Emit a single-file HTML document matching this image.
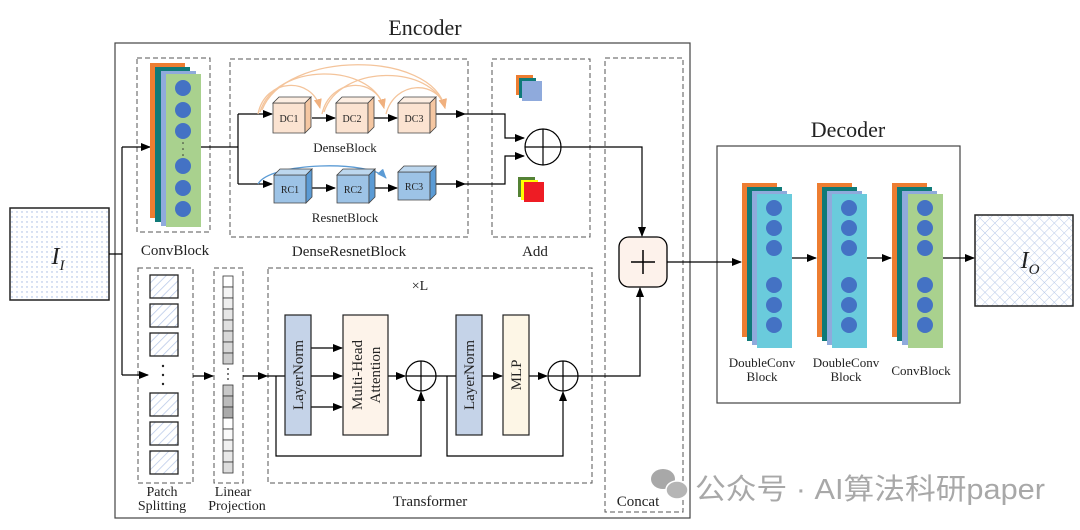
<!DOCTYPE html>
<html><head><meta charset="utf-8"><style>
html,body{margin:0;padding:0;background:#fff;width:1080px;height:530px;overflow:hidden}
svg text{font-family:"Liberation Serif",serif;fill:#222}
</style></head><body>
<svg width="1080" height="530" viewBox="0 0 1080 530" xmlns="http://www.w3.org/2000/svg">
<defs>
<marker id="a" markerWidth="10" markerHeight="8" refX="9" refY="4" orient="auto" markerUnits="userSpaceOnUse"><path d="M0,0 L10,4 L0,8 z" fill="#000"/></marker>
<marker id="ao" markerWidth="10" markerHeight="8" refX="9" refY="4" orient="auto" markerUnits="userSpaceOnUse"><path d="M0,0 L10,4 L0,8 z" fill="#f0b07e"/></marker>
<marker id="ab" markerWidth="10" markerHeight="8" refX="9" refY="4" orient="auto" markerUnits="userSpaceOnUse"><path d="M0,0 L10,4 L0,8 z" fill="#5b9bd5"/></marker>
<pattern id="dots" width="5" height="5" patternUnits="userSpaceOnUse"><circle cx="2" cy="2" r="0.7" fill="#9db4e0"/></pattern>
<pattern id="hatch" width="6" height="6" patternUnits="userSpaceOnUse" patternTransform="rotate(45)"><line x1="0" y1="0" x2="0" y2="6" stroke="#b7c8e8" stroke-width="1.5"/></pattern>
<pattern id="cross" width="7" height="7" patternUnits="userSpaceOnUse" patternTransform="rotate(45)"><path d="M0,0 H7 M0,0 V7" stroke="#b7c8e8" stroke-width="1"/></pattern>
</defs>
<g fill="none" stroke="#000" stroke-width="1.2">
<rect x="115" y="43" width="575" height="475" stroke="#444"/>
<rect x="717" y="146" width="243" height="257" stroke="#444"/>
</g>
<text x="425" y="35" font-size="22" text-anchor="middle">Encoder</text>
<text x="848" y="137" font-size="22" text-anchor="middle">Decoder</text>
<g fill="none" stroke="#555" stroke-dasharray="5,3" stroke-width="1">
<rect x="137" y="58" width="73" height="174"/>
<rect x="230" y="59" width="238" height="178"/>
<rect x="492" y="59" width="98" height="178"/>
<rect x="605" y="58" width="78" height="454"/>
<rect x="138" y="268" width="55" height="215"/>
<rect x="214" y="268" width="29" height="215"/>
<rect x="268" y="268" width="324" height="215"/>
</g>
<rect x="10" y="208" width="99" height="92" fill="url(#dots)" stroke="#222" stroke-width="1.5"/>
<text x="58" y="264" font-size="24" font-style="italic" text-anchor="middle">I<tspan font-size="15" dy="6">I</tspan></text>
<rect x="975" y="215" width="98" height="91" fill="url(#cross)" stroke="#222" stroke-width="1.5"/>
<text x="1030" y="268" font-size="24" font-style="italic" text-anchor="middle">I<tspan font-size="15" dy="6">O</tspan></text>
<g fill="none" stroke="#000" stroke-width="1.2">
<path d="M109,254 H122 M122,147 V375"/>
<path d="M122,147 H150" marker-end="url(#a)"/>
<path d="M122,375 H148" marker-end="url(#a)"/>
</g>
<rect x="150" y="63" width="35" height="155" fill="#ed7d31"/>
<rect x="155" y="67" width="35" height="155" fill="#0f7a78"/>
<rect x="161" y="71" width="35" height="155" fill="#8faadc"/>
<rect x="166" y="74" width="35" height="153" fill="#a9d18e"/>
<g fill="#4472c4">
<circle cx="183" cy="88" r="8"/><circle cx="183" cy="110" r="8"/><circle cx="183" cy="131" r="8"/>
<circle cx="183" cy="166" r="8"/><circle cx="183" cy="188" r="8"/><circle cx="183" cy="209" r="8"/>
<circle cx="183" cy="143" r="0.8" fill="#333"/><circle cx="183" cy="149" r="0.8" fill="#333"/><circle cx="183" cy="155" r="0.8" fill="#333"/>
</g>
<text x="175" y="255" font-size="15" text-anchor="middle">ConvBlock</text>
<text x="349" y="256" font-size="15" text-anchor="middle">DenseResnetBlock</text>
<text x="535" y="256" font-size="15" text-anchor="middle">Add</text>
<g fill="none" stroke="#000" stroke-width="1.2">
<path d="M201,147 H238 M238,114 V184"/>
<path d="M238,114 H272" marker-end="url(#a)"/>
<path d="M238,184 H272" marker-end="url(#a)"/>
<path d="M312,118 H335" marker-end="url(#a)"/>
<path d="M374,118 H397" marker-end="url(#a)"/>
<path d="M436,114 H465" marker-end="url(#a)"/>
<path d="M312,188 H335" marker-end="url(#a)"/>
<path d="M374,188 H397" marker-end="url(#a)"/>
<path d="M436,184 H465" marker-end="url(#a)"/>
<path d="M465,114 H505 V138 H524" marker-end="url(#a)"/>
<path d="M465,184 H505 V156 H524" marker-end="url(#a)"/>
</g>
<g fill="none" stroke="#f4c49b" stroke-width="1.3">
<path d="M258,114 C265,78 312,76 320,108" marker-end="url(#ao)"/>
<path d="M260,112 C275,62 372,62 384,108" marker-end="url(#ao)"/>
<path d="M262,110 C285,50 432,50 445,108" marker-end="url(#ao)"/>
<path d="M322,114 C330,78 376,76 384,108" marker-end="url(#ao)"/>
<path d="M324,112 C340,64 432,64 445,108" marker-end="url(#ao)"/>
<path d="M386,114 C395,80 438,80 445,108" marker-end="url(#ao)"/>
</g>
<path d="M258,184 C270,162 370,160 386,178" fill="none" stroke="#5b9bd5" stroke-width="1.3" marker-end="url(#ab)"/>
<g stroke="#444" stroke-width="0.8">
<g fill="#fbe3d1"><path d="M273,103 h32 v30 h-32z"/><path d="M273,103 l6,-6 h32 l-6,6z" fill="#fdeee2"/><path d="M305,103 l6,-6 v30 l-6,6z" fill="#f5c7a2"/></g>
<g fill="#fbe3d1"><path d="M336,103 h32 v30 h-32z"/><path d="M336,103 l6,-6 h32 l-6,6z" fill="#fdeee2"/><path d="M368,103 l6,-6 v30 l-6,6z" fill="#f5c7a2"/></g>
<g fill="#fbe3d1"><path d="M398,103 h32 v30 h-32z"/><path d="M398,103 l6,-6 h32 l-6,6z" fill="#fdeee2"/><path d="M430,103 l6,-6 v30 l-6,6z" fill="#f5c7a2"/></g>
<g fill="#9dc3e6"><path d="M274,175 h32 v28 h-32z"/><path d="M274,175 l6,-6 h32 l-6,6z" fill="#bdd7ee"/><path d="M306,175 l6,-6 v28 l-6,6z" fill="#5b9bd5"/></g>
<g fill="#9dc3e6"><path d="M337,175 h32 v28 h-32z"/><path d="M337,175 l6,-6 h32 l-6,6z" fill="#bdd7ee"/><path d="M369,175 l6,-6 v28 l-6,6z" fill="#5b9bd5"/></g>
<g fill="#9dc3e6"><path d="M398,172 h32 v28 h-32z"/><path d="M398,172 l6,-6 h32 l-6,6z" fill="#bdd7ee"/><path d="M430,172 l6,-6 v28 l-6,6z" fill="#5b9bd5"/></g>
</g>
<g font-size="10" text-anchor="middle"><text x="289" y="122">DC1</text><text x="352" y="122">DC2</text><text x="414" y="122">DC3</text>
<text x="290" y="193">RC1</text><text x="353" y="193">RC2</text><text x="414" y="190">RC3</text></g>
<text x="345" y="152" font-size="13" text-anchor="middle">DenseBlock</text>
<text x="345" y="222" font-size="13" text-anchor="middle">ResnetBlock</text>
<rect x="516" y="75" width="17" height="20" fill="#ed7d31"/><rect x="519" y="78" width="17" height="20" fill="#0f7a78"/><rect x="522" y="81" width="20" height="20" fill="#8faadc"/>
<rect x="518" y="177" width="17" height="20" fill="#548235"/><rect x="521" y="180" width="17" height="20" fill="#ffff00"/><rect x="524" y="182" width="20" height="20" fill="#ee1c24"/>
<g fill="#fff" stroke="#000" stroke-width="1.2">
<circle cx="543" cy="147" r="18"/>
<path d="M525,147 H561 M543,129 V165"/>
</g>
<g fill="none" stroke="#000" stroke-width="1.2">
<path d="M561,147 H642 V236" marker-end="url(#a)"/>
<path d="M578,376 H640 V288" marker-end="url(#a)"/>
<path d="M667,262 H741" marker-end="url(#a)"/>
</g>
<rect x="619" y="237" width="48" height="50" rx="10" fill="#fdf2eb" stroke="#000" stroke-width="1.3"/>
<path d="M631,262 H655 M643,250 V274" stroke="#000" stroke-width="1.5"/>
<text x="638" y="506" font-size="15" text-anchor="middle">Concat</text>
<g fill="url(#hatch)" stroke="#222" stroke-width="1.3">
<rect x="150" y="275" width="28" height="23"/><rect x="150" y="304" width="28" height="23"/><rect x="150" y="333" width="28" height="23"/>
<rect x="150" y="393" width="28" height="23"/><rect x="150" y="422" width="28" height="23"/><rect x="150" y="451" width="28" height="23"/>
</g>
<g fill="#222"><circle cx="163" cy="366" r="1.2"/><circle cx="163" cy="375" r="1.2"/><circle cx="163" cy="384" r="1.2"/></g>
<text x="162" y="496" font-size="14" text-anchor="middle">Patch</text>
<text x="162" y="510" font-size="14" text-anchor="middle">Splitting</text>
<g stroke="#333" stroke-width="0.8">
<rect x="223" y="276" width="10" height="11" fill="#fff"/><rect x="223" y="287" width="10" height="11" fill="#f4f4f4"/><rect x="223" y="298" width="10" height="11" fill="#eee"/><rect x="223" y="309" width="10" height="11" fill="#e6e6e6"/><rect x="223" y="320" width="10" height="11" fill="#e0e0e0"/><rect x="223" y="331" width="10" height="11" fill="#d8d8d8"/><rect x="223" y="342" width="10" height="11" fill="#d8d8d8"/><rect x="223" y="353" width="10" height="11" fill="#ccc"/>
<rect x="223" y="385" width="10" height="11" fill="#c8c8c8"/><rect x="223" y="396" width="10" height="11" fill="#bbb"/><rect x="223" y="407" width="10" height="11" fill="#aaa"/><rect x="223" y="418" width="10" height="11" fill="#fff"/><rect x="223" y="429" width="10" height="11" fill="#fafafa"/><rect x="223" y="440" width="10" height="11" fill="#f0f0f0"/><rect x="223" y="451" width="10" height="11" fill="#e8e8e8"/><rect x="223" y="462" width="10" height="11" fill="#ddd"/>
</g>
<g fill="#222"><circle cx="228" cy="369" r="0.9"/><circle cx="228" cy="374" r="0.9"/><circle cx="228" cy="379" r="0.9"/></g>
<text x="233" y="496" font-size="14" text-anchor="middle">Linear</text>
<text x="237" y="510" font-size="14" text-anchor="middle">Projection</text>
<g fill="none" stroke="#000" stroke-width="1.2">
<path d="M193,376 H213" marker-end="url(#a)"/>
<path d="M243,376 H267" marker-end="url(#a)"/>
<path d="M267,376 H285"/>
<path d="M276,376 V456 H421 V392" marker-end="url(#a)"/>
<path d="M311,376 H342" marker-end="url(#a)"/>
<path d="M309,348 V407"/>
<path d="M309,348 H342" marker-end="url(#a)"/>
<path d="M309,407 H342" marker-end="url(#a)"/>
<path d="M388,376 H405" marker-end="url(#a)"/>
<path d="M436,376 H456"/>
<path d="M447,376 V456 H563 V392" marker-end="url(#a)"/>
<path d="M482,376 H502" marker-end="url(#a)"/>
<path d="M529,376 H547" marker-end="url(#a)"/>
</g>
<text x="420" y="290" font-size="14" text-anchor="middle">×L</text>
<text x="430" y="506" font-size="15" text-anchor="middle">Transformer</text>
<rect x="285" y="315" width="26" height="120" fill="#c5d3e8" stroke="#222" stroke-width="1.2"/>
<rect x="343" y="315" width="45" height="120" fill="#fdf3ea" stroke="#222" stroke-width="1.2"/>
<rect x="456" y="315" width="26" height="120" fill="#c5d3e8" stroke="#222" stroke-width="1.2"/>
<rect x="503" y="315" width="26" height="120" fill="#fdf6e6" stroke="#222" stroke-width="1.2"/>
<g font-size="15" text-anchor="middle">
<text transform="translate(303,375) rotate(-90)">LayerNorm</text>
<text transform="translate(362,375) rotate(-90)">Multi-Head</text>
<text transform="translate(380,375) rotate(-90)">Attention</text>
<text transform="translate(474,375) rotate(-90)">LayerNorm</text>
<text transform="translate(521,375) rotate(-90)">MLP</text>
</g>
<g fill="#fff" stroke="#000" stroke-width="1.2">
<circle cx="421" cy="376" r="15"/><path d="M406,376 H436 M421,361 V391"/>
<circle cx="563" cy="376" r="15"/><path d="M548,376 H578 M563,361 V391"/>
</g>
<g>
<rect x="742" y="183" width="35" height="154" fill="#ed7d31"/><rect x="747" y="187" width="35" height="154" fill="#0f7a78"/><rect x="752" y="191" width="35" height="154" fill="#8faadc"/><rect x="757" y="194" width="35" height="154" fill="#6acbdc"/>
<rect x="817" y="183" width="35" height="154" fill="#ed7d31"/><rect x="822" y="187" width="35" height="154" fill="#0f7a78"/><rect x="827" y="191" width="35" height="154" fill="#8faadc"/><rect x="832" y="194" width="35" height="154" fill="#6acbdc"/>
<rect x="892" y="183" width="35" height="154" fill="#ed7d31"/><rect x="897" y="187" width="35" height="154" fill="#0f7a78"/><rect x="902" y="191" width="35" height="154" fill="#8faadc"/><rect x="908" y="194" width="35" height="154" fill="#a9d18e"/>
</g>
<g fill="#4472c4">
<circle cx="774" cy="208" r="8"/><circle cx="774" cy="228" r="8"/><circle cx="774" cy="248" r="8"/><circle cx="774" cy="285" r="8"/><circle cx="774" cy="305" r="8"/><circle cx="774" cy="325" r="8"/>
<circle cx="849" cy="208" r="8"/><circle cx="849" cy="228" r="8"/><circle cx="849" cy="248" r="8"/><circle cx="849" cy="285" r="8"/><circle cx="849" cy="305" r="8"/><circle cx="849" cy="325" r="8"/>
<circle cx="925" cy="208" r="8"/><circle cx="925" cy="228" r="8"/><circle cx="925" cy="248" r="8"/><circle cx="925" cy="285" r="8"/><circle cx="925" cy="305" r="8"/><circle cx="925" cy="325" r="8"/>
</g>
<g fill="none" stroke="#000" stroke-width="1.2">
<path d="M792,258 H816" marker-end="url(#a)"/>
<path d="M867,258 H891" marker-end="url(#a)"/>
<path d="M943,258 H974" marker-end="url(#a)"/>
</g>
<g font-size="13" text-anchor="middle">
<text x="762" y="367">DoubleConv</text><text x="762" y="381">Block</text>
<text x="846" y="367">DoubleConv</text><text x="846" y="381">Block</text>
<text x="921" y="375">ConvBlock</text>
</g>
<g fill="#a8a8a8">
<ellipse cx="663" cy="479" rx="12" ry="10"/>
<ellipse cx="677" cy="490" rx="11" ry="9" fill="#b5b5b5" stroke="#fff" stroke-width="1.5"/>
</g>
<text x="695" y="499" font-size="29" textLength="350" lengthAdjust="spacingAndGlyphs" style="fill:#a8a8a8;font-family:'Liberation Sans','Noto Sans CJK SC',sans-serif">公众号 · AI算法科研paper</text>
</svg>
</body></html>
